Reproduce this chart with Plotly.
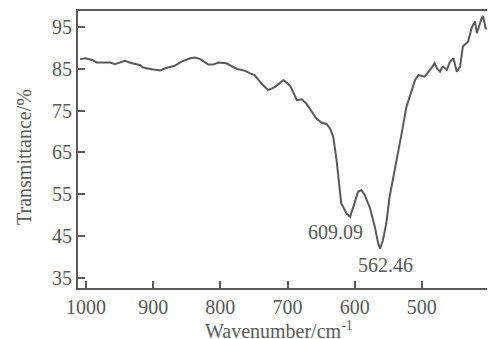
import plotly.graph_objects as go

wavenumber = [1009, 1001, 991, 984, 964, 957, 942, 932, 920, 915, 902, 890, 882, 868, 858, 845, 838, 830,
              818, 811, 803, 791, 776, 763, 756, 749, 739, 729, 719, 706, 696, 686, 679, 672, 667, 657,
              649, 642, 637, 632, 627, 625.5, 622, 620, 612, 607, 602, 595, 590, 585, 577, 570, 565, 562,
              558, 553, 548, 540, 538, 530, 523, 515, 510, 505, 496, 486, 481, 477, 473, 470, 468, 463,
              458, 453, 448, 443, 439, 431, 426, 421, 418, 411, 409, 405, 401]
transmittance = [87.3, 87.5, 87.1, 86.5, 86.5, 86.1, 86.9, 86.3, 85.9, 85.3, 84.9, 84.6, 85.1, 85.7, 86.7, 87.5,
                 87.7, 87.3, 86.0, 86.0, 86.5, 86.3, 85.0, 84.5, 83.9, 83.5, 81.5, 79.9, 80.6, 82.3, 80.9,
                 77.5, 77.7, 76.7, 75.5, 73.1, 72.1, 71.8, 70.8, 68.8, 63.2, 60.8, 56.0, 52.8, 50.4, 49.6,
                 52.0, 55.6, 56.0, 54.8, 51.6, 47.2, 43.2, 42.0, 44.0, 48.0, 54.4, 60.8, 63.2, 69.6, 75.9,
                 79.9, 82.3, 83.5, 83.1, 85.1, 86.3, 85.0, 84.3, 85.3, 85.5, 84.7, 86.7, 87.5, 84.3, 85.5,
                 90.3, 91.5, 94.7, 96.3, 93.5, 97.1, 97.6, 94.7, 94.5]

x_ticks = [1000, 900, 800, 700, 600, 500]
y_ticks = [35, 45, 55, 65, 75, 85, 95]

peak_labels = ["609.09", "562.46"]
peak_label_x = [629, 554]
peak_label_y = [46, 38]

x_title = "Wavenumber/cm<sup>-1</sup>"
y_title = "Transmittance/%"

grey = "#5a5a5a"
font = dict(family="Liberation Serif, Times New Roman, serif", size=20, color=grey)

fig = go.Figure()
fig.add_trace(go.Scatter(x=wavenumber, y=transmittance, mode="lines",
                         line=dict(color=grey, width=2), showlegend=False))

for t, x, y in zip(peak_labels, peak_label_x, peak_label_y):
    fig.add_annotation(x=x, y=y, text=t, showarrow=False, font=font,
                       xanchor="center", yanchor="middle")

fig.add_annotation(xref="paper", yref="paper", x=0.49, y=0, yshift=-42, text=x_title,
                   showarrow=False, font=font, xanchor="center", yanchor="middle")
fig.add_annotation(xref="paper", yref="paper", x=0, xshift=-54, y=0.473, text=y_title,
                   showarrow=False, font=font, xanchor="center", yanchor="middle", textangle=-90)

fig.update_layout(
    width=487, height=331,
    margin=dict(l=70, r=6, t=3, b=51, autoexpand=False),
    paper_bgcolor="white", plot_bgcolor="white",
    font=font,
    xaxis=dict(range=[1012, 400], tickvals=x_ticks, ticks="inside", ticklen=7,
               tickwidth=2, tickcolor=grey, showline=True, linecolor=grey,
               linewidth=2, mirror=True, showgrid=False, zeroline=False,
               tickfont=font, automargin=False),
    yaxis=dict(range=[32.6, 98.8], tickvals=y_ticks, ticks="inside", ticklen=7,
               tickwidth=2, tickcolor=grey, showline=True, linecolor=grey,
               linewidth=2, mirror=True, showgrid=False, zeroline=False,
               tickfont=font, automargin=False),
)

fig.write_html("out.html")
